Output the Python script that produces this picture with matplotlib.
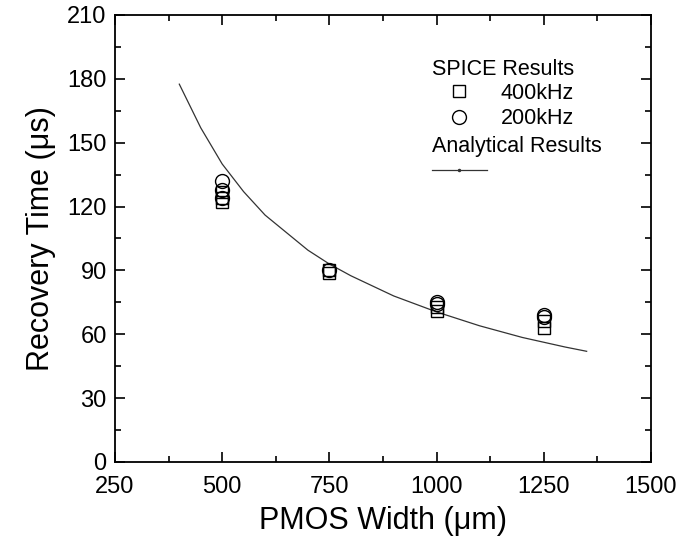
import matplotlib
matplotlib.use("Agg")
import matplotlib.pyplot as plt
from matplotlib.lines import Line2D
from matplotlib.ticker import MultipleLocator

plt.rcParams['font.family'] = ['Liberation Sans', 'DejaVu Sans']

# SPICE results
w_400 = [500, 500, 500, 750, 750, 1000, 1000, 1250, 1250]
t_400 = [122, 124, 127, 89, 90, 71, 73, 63, 66]
w_200 = [500, 500, 500, 750, 1000, 1000, 1250, 1250]
t_200 = [132, 128, 124, 90, 74, 75, 68, 69]

# analytical curve
w_an = [400, 450, 500, 550, 600, 700, 750, 800, 900, 1000, 1100, 1200, 1300, 1350]
t_an = [177.5, 157, 140, 127, 116, 99.5, 93, 87.5, 78, 70.5, 64, 58.5, 54, 52]

fig = plt.figure(figsize=(6.82, 5.49), dpi=100)
ax = fig.add_axes([0.1686, 0.1585, 0.7859, 0.8142])

ax.plot(w_an, t_an, color='#333333', lw=0.9)
ax.plot(w_400, t_400, ls='none', marker='s', ms=9, mfc='none', mec='black', mew=1.0)
ax.plot(w_200, t_200, ls='none', marker='o', ms=10, mfc='none', mec='black', mew=1.0)

ax.set_xlim(250, 1500)
ax.set_ylim(0, 210)
ax.xaxis.set_major_locator(MultipleLocator(250))
ax.xaxis.set_minor_locator(MultipleLocator(125))
ax.yaxis.set_major_locator(MultipleLocator(30))
ax.yaxis.set_minor_locator(MultipleLocator(15))
ax.tick_params(which='both', direction='in', top=True, right=True, labelsize=17, width=1.2)
ax.tick_params(which='major', length=7)
ax.tick_params(which='minor', length=4)
ax.tick_params(axis='x', pad=10)
ax.tick_params(axis='y', pad=6)
for s in ax.spines.values():
    s.set_linewidth(1.3)

ax.set_xlabel('PMOS Width (\u03bcm)', fontsize=22, labelpad=6)
ax.set_ylabel('Recovery Time (\u03bcs)', fontsize=22, labelpad=8)

# legend block
ax.text(0.591, 0.877, 'SPICE Results', transform=ax.transAxes, fontsize=15.5, va='center')
ax.text(0.591, 0.705, 'Analytical Results', transform=ax.transAxes, fontsize=15.5, va='center')

h1 = [Line2D([], [], ls='none', marker='s', ms=9, mfc='none', mec='black'),
      Line2D([], [], ls='none', marker='o', ms=10, mfc='none', mec='black')]
leg1 = ax.legend(h1, ['400kHz', '200kHz'], frameon=False, fontsize=15.5,
                 loc='upper left', bbox_to_anchor=(0.611, 0.848),
                 handlelength=1.5, handletextpad=1.2,
                 borderaxespad=0, labelspacing=0.2, borderpad=0)
ax.add_artist(leg1)
h2 = [Line2D([], [], color='#333333', lw=0.9, marker='.', ms=3)]
leg2 = ax.legend(h2, [''], frameon=False, fontsize=15.5, loc='center left',
                 bbox_to_anchor=(0.591, 0.649), handlelength=2.56,
                 handletextpad=0, borderaxespad=0, borderpad=0)

fig.savefig('out.png', dpi=100)
